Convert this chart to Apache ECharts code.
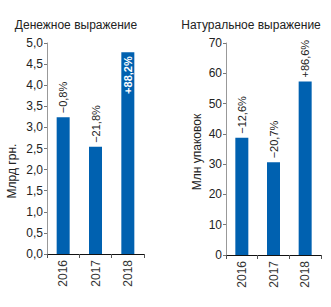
<!DOCTYPE html>
<html><head><meta charset="utf-8">
<script src="https://cdn.jsdelivr.net/npm/echarts@6/dist/echarts.min.js"></script>
<style>html,body{margin:0;padding:0;background:#fff}#c{width:331px;height:307px}</style>
</head><body><div id="c"></div>
<script>
const years = ['2016', '2017', '2018'];
const moneyValues = [3.24, 2.54, 4.78];
const moneyChanges = ['\u22120,8%', '\u221221,8%', '+88,2%'];
const unitValues = [38.7, 30.6, 57.3];
const unitChanges = ['\u221212,6%', '\u221220,7%', '+86,6%'];
const moneyTicks = {min: 0, max: 5, interval: 0.5};
const unitTicks = {min: 0, max: 70, interval: 10};
const titles = ['Денежное выражение', 'Натуральное выражение'];
const axisNames = ['Млрд грн.', 'Млн упаковок'];

const FONT = 'Liberation Sans, Arial, sans-serif';
const BLUE = '#0061b0';
const chart = echarts.init(document.getElementById('c'), null, {renderer: 'svg'});

function xAxis(idx) {
  return {
    type: 'category', gridIndex: idx, data: years,
    axisLine: {lineStyle: {color: '#111', width: 1}},
    axisTick: {show: true, length: 4, lineStyle: {color: '#555'}},
    axisLabel: {show: true, interval: 0, rotate: 90, color: '#333', fontSize: 12, fontFamily: FONT, margin: 6}
  };
}
function yAxis(idx, t, fmt) {
  return {
    type: 'value', gridIndex: idx, min: t.min, max: t.max, interval: t.interval,
    splitLine: {show: false},
    axisLine: {show: true, lineStyle: {color: '#999', width: 1}},
    axisTick: {show: true, length: 3, lineStyle: {color: '#777'}},
    axisLabel: {color: '#222', fontSize: 12, fontFamily: FONT, margin: 4, formatter: fmt}
  };
}
function barLabel(changes) {
  return {
    show: true, position: 'top', rotate: 90, align: 'left', verticalAlign: 'middle', distance: 4,
    formatter: p => changes[p.dataIndex],
    fontSize: 11, fontFamily: FONT, color: '#222'
  };
}

const moneyData = moneyValues.map((v, i) => {
  const d = {value: v};
  if (i === 2) {
    d.label = {position: 'insideTop', rotate: 90, align: 'right', verticalAlign: 'middle',
      color: '#fff', fontWeight: 'bold', distance: 4};
  }
  return d;
});

function textEl(x, y, text, rot) {
  return {type: 'text', x: x, y: y, rotation: rot || 0,
    style: {text: text, fontSize: 12, fontFamily: FONT, fill: '#222', align: 'center', verticalAlign: 'middle'}};
}

chart.setOption({
  animation: false,
  grid: [
    {left: 47, right: 187, top: 43, bottom: 53},
    {left: 226, right: 10, top: 43, bottom: 52}
  ],
  xAxis: [xAxis(0), xAxis(1)],
  yAxis: [
    yAxis(0, moneyTicks, v => v.toFixed(1).replace('.', ',')),
    yAxis(1, unitTicks, v => String(v))
  ],
  series: [
    {type: 'bar', xAxisIndex: 0, yAxisIndex: 0, data: moneyData, barWidth: 13,
     itemStyle: {color: BLUE}, label: barLabel(moneyChanges)},
    {type: 'bar', xAxisIndex: 1, yAxisIndex: 1, data: unitValues, barWidth: 13,
     itemStyle: {color: BLUE}, label: barLabel(unitChanges)}
  ],
  graphic: [
    textEl(76, 25, titles[0]),
    textEl(251, 25, titles[1]),
    textEl(12, 171, axisNames[0], Math.PI / 2),
    textEl(197, 152, axisNames[1], Math.PI / 2)
  ]
});
</script></body></html>
